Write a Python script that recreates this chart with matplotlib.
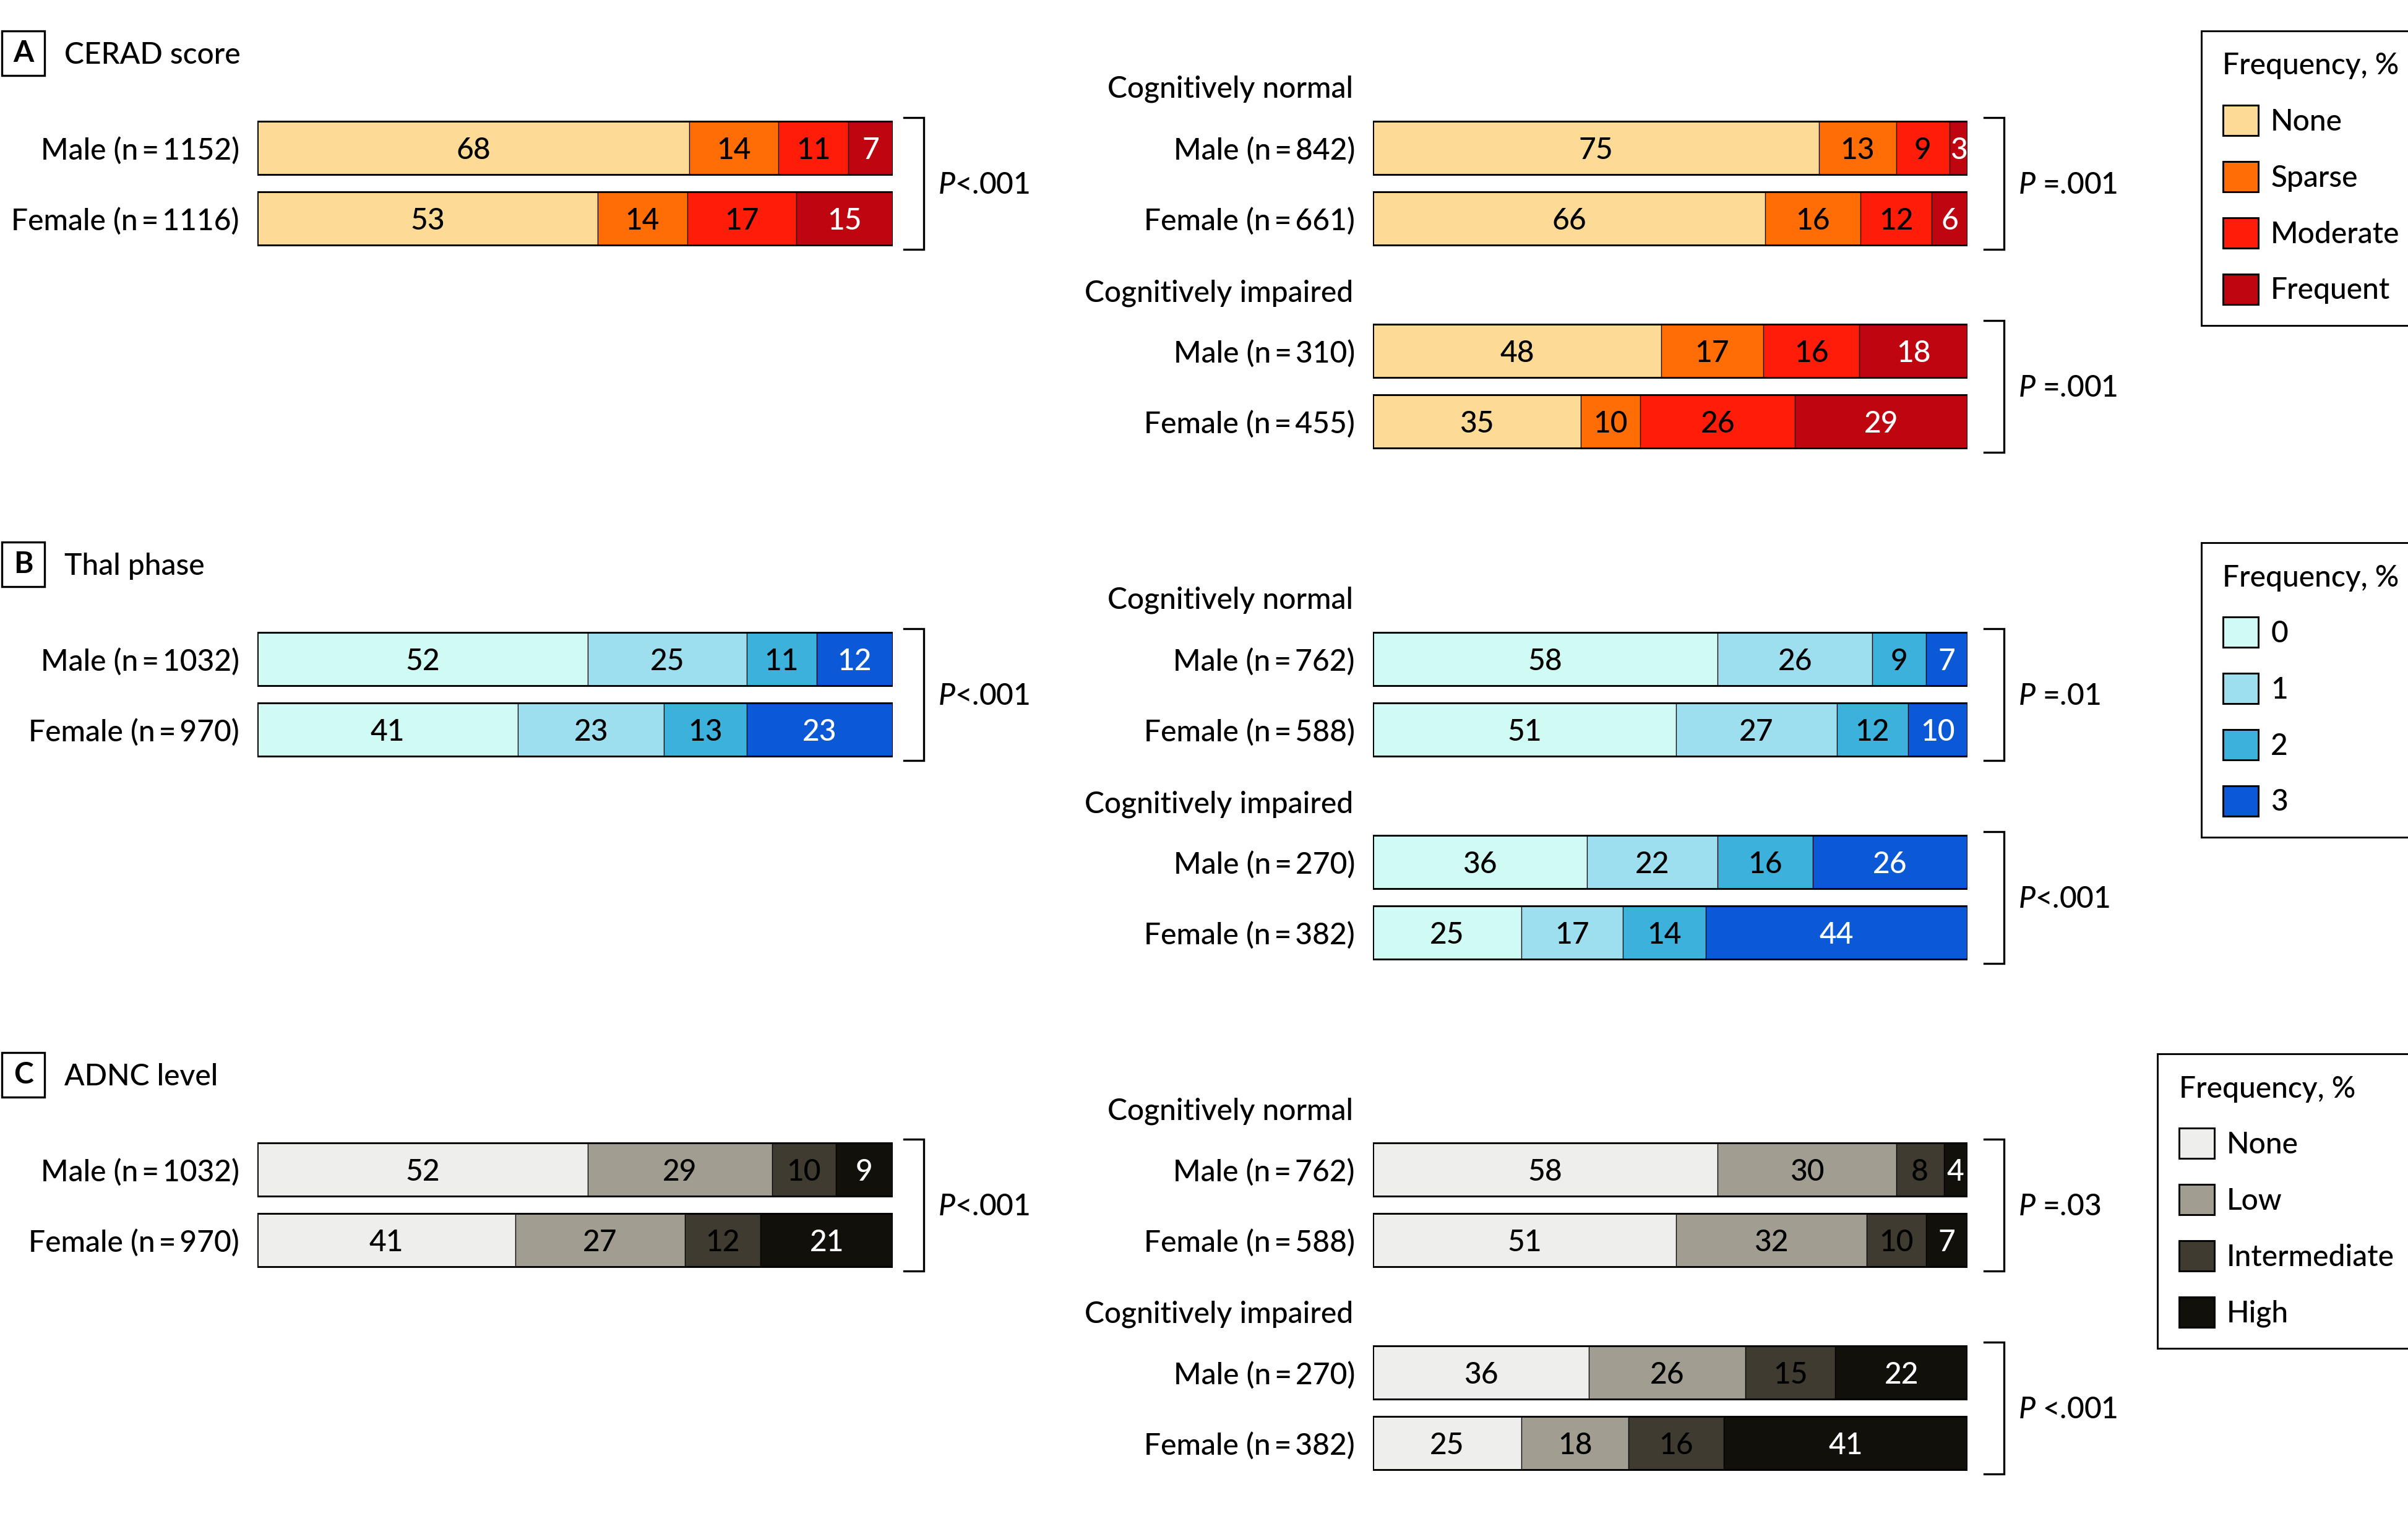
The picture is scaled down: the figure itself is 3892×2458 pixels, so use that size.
import numpy as np
import matplotlib
matplotlib.use("Agg")
import matplotlib.pyplot as plt
from matplotlib.patches import Patch, Rectangle

plt.rcParams['font.family'] = ['Lato', 'DejaVu Sans']
plt.rcParams['font.weight'] = 'medium'
plt.rcParams['mathtext.fontset'] = 'custom'
plt.rcParams['mathtext.it'] = 'Lato:italic:medium'
plt.rcParams['mathtext.rm'] = 'Lato:medium'

# ---------------- data ----------------
cerad_levels = ["None", "Sparse", "Moderate", "Frequent"]
cerad_colors = ["#FDDA96", "#FF6D04", "#FF1D0A", "#BE0510"]
cerad_all_labels = ["Male (n\u2009=\u20091152)", "Female (n\u2009=\u20091116)"]
cerad_all_values = [[68, 14, 11, 7], [53, 14, 17, 15]]
cerad_all_p = "$\\mathit{P}$<.001"
cerad_normal_labels = ["Male (n\u2009=\u2009842)", "Female (n\u2009=\u2009661)"]
cerad_normal_values = [[75, 13, 9, 3], [66, 16, 12, 6]]
cerad_normal_p = "$\\mathit{P}$ =.001"
cerad_impaired_labels = ["Male (n\u2009=\u2009310)", "Female (n\u2009=\u2009455)"]
cerad_impaired_values = [[48, 17, 16, 18], [35, 10, 26, 29]]
cerad_impaired_p = "$\\mathit{P}$ =.001"

thal_levels = ["0", "1", "2", "3"]
thal_colors = ["#D0FBF5", "#9EDFEF", "#3BB1DC", "#0B59D6"]
thal_all_labels = ["Male (n\u2009=\u20091032)", "Female (n\u2009=\u2009970)"]
thal_all_values = [[52, 25, 11, 12], [41, 23, 13, 23]]
thal_all_p = "$\\mathit{P}$<.001"
thal_normal_labels = ["Male (n\u2009=\u2009762)", "Female (n\u2009=\u2009588)"]
thal_normal_values = [[58, 26, 9, 7], [51, 27, 12, 10]]
thal_normal_p = "$\\mathit{P}$ =.01"
thal_impaired_labels = ["Male (n\u2009=\u2009270)", "Female (n\u2009=\u2009382)"]
thal_impaired_values = [[36, 22, 16, 26], [25, 17, 14, 44]]
thal_impaired_p = "$\\mathit{P}$<.001"

adnc_levels = ["None", "Low", "Intermediate", "High"]
adnc_colors = ["#EEEEEC", "#A19E91", "#403B30", "#11100A"]
adnc_all_labels = ["Male (n\u2009=\u20091032)", "Female (n\u2009=\u2009970)"]
adnc_all_values = [[52, 29, 10, 9], [41, 27, 12, 21]]
adnc_all_p = "$\\mathit{P}$<.001"
adnc_normal_labels = ["Male (n\u2009=\u2009762)", "Female (n\u2009=\u2009588)"]
adnc_normal_values = [[58, 30, 8, 4], [51, 32, 10, 7]]
adnc_normal_p = "$\\mathit{P}$ =.03"
adnc_impaired_labels = ["Male (n\u2009=\u2009270)", "Female (n\u2009=\u2009382)"]
adnc_impaired_values = [[36, 26, 15, 22], [25, 18, 16, 41]]
adnc_impaired_p = "$\\mathit{P}$ <.001"

panel_letters = ["A", "B", "C"]
panel_titles = ["CERAD score", "Thal phase", "ADNC level"]
group_titles = ["Cognitively normal", "Cognitively impaired"]
legend_title = "Frequency, %"

panels = [
    dict(levels=cerad_levels, colors=cerad_colors,
         groups=[(cerad_all_labels, cerad_all_values, cerad_all_p),
                 (cerad_normal_labels, cerad_normal_values, cerad_normal_p),
                 (cerad_impaired_labels, cerad_impaired_values, cerad_impaired_p)]),
    dict(levels=thal_levels, colors=thal_colors,
         groups=[(thal_all_labels, thal_all_values, thal_all_p),
                 (thal_normal_labels, thal_normal_values, thal_normal_p),
                 (thal_impaired_labels, thal_impaired_values, thal_impaired_p)]),
    dict(levels=adnc_levels, colors=adnc_colors,
         groups=[(adnc_all_labels, adnc_all_values, adnc_all_p),
                 (adnc_normal_labels, adnc_normal_values, adnc_normal_p),
                 (adnc_impaired_labels, adnc_impaired_values, adnc_impaired_p)]),
]

# ---------------- layout ----------------
W, H = 3892, 2458
DPI = 300
FS = 11.5
fig = plt.figure(figsize=(W / DPI, H / DPI), dpi=DPI)

ov = fig.add_axes([0, 0, 1, 1])
ov.set_xlim(0, W)
ov.set_ylim(H, 0)
ov.axis('off')
ov.patch.set_alpha(0)


def add_ax(x0, y0, x1, y1):
    return fig.add_axes([x0 / W, 1 - y1 / H, (x1 - x0) / W, (y1 - y0) / H])


panel_offsets = [0, 826, 1651]
legend_anchor = [(3558, 50), (3558, 877), (3487, 1703)]

group_geo = [(416, 1443, 239), (2219, 3180, 239), (2219, 3180, 567)]
row_gap = 114
bar_h = 86 / row_gap


def draw_group(ax, labels, values, colors):
    for i, vals in enumerate(values):
        vals = np.asarray(vals, dtype=float)
        widths = vals / vals.sum() * 100
        lefts = np.concatenate([[0], np.cumsum(widths)[:-1]])
        ax.barh(i, widths, left=lefts, height=bar_h, color=colors,
                edgecolor='black', linewidth=0.3)
        ax.barh(i, 100, left=0, height=bar_h, fill=False,
                edgecolor='black', linewidth=0.7)
        for j, (l, w, v) in enumerate(zip(lefts, widths, vals)):
            tc = 'white' if j == len(vals) - 1 else 'black'
            ax.text(l + w / 2, i, f"{int(v)}", ha='center',
                    va='center_baseline', fontsize=FS, color=tc)
    ax.set_xlim(0, 100)
    ax.set_ylim(1.5, -0.5)
    ax.set_yticks(range(len(labels)))
    ax.set_yticklabels(labels, fontsize=FS)
    ax.tick_params(axis='y', length=0, pad=7.0)
    ax.tick_params(axis='x', bottom=False, labelbottom=False)
    for s in ax.spines.values():
        s.set_visible(False)
    ax.patch.set_alpha(0)


for p, (panel, off) in enumerate(zip(panels, panel_offsets)):
    ov.add_patch(Rectangle((3, 50 + off), 69, 72, fill=False,
                           edgecolor='black', linewidth=0.8))
    ov.text(37.5, 86 + off, panel_letters[p], ha='center', va='center',
            fontsize=FS, fontweight='bold')
    ov.text(104, 103 + off, panel_titles[p], ha='left', va='baseline',
            fontsize=FS)
    ov.text(2187, 158 + off, group_titles[0], ha='right', va='baseline', fontsize=FS)
    ov.text(2187, 487 + off, group_titles[1], ha='right', va='baseline', fontsize=FS)

    for g, (labels, values, ptxt) in enumerate(panel['groups']):
        x0, x1, c0 = group_geo[g]
        cy0 = c0 + off
        ax = add_ax(x0, cy0 - row_gap / 2, x1, cy0 + row_gap * 1.5)
        draw_group(ax, labels, values, panel['colors'])
        top = cy0 - 43 - 6
        bot = cy0 + row_gap + 43 + 7
        vx = x1 + (50 if g == 0 else 59)
        tx = x1 + (18 if g == 0 else 27)
        ov.plot([tx, vx, vx, tx], [top, top, bot, bot], color='black',
                linewidth=0.8, solid_joinstyle='miter')
        ov.text(vx + 23, cy0 + row_gap / 2 + 17, ptxt, ha='left',
                va='baseline', fontsize=FS)

    handles = [Patch(facecolor=c, edgecolor='black', linewidth=0.7)
               for c in panel['colors']]
    ax_, ay_ = legend_anchor[p]
    leg = fig.legend(handles, panel['levels'], title=legend_title,
                     loc='upper left', bbox_to_anchor=(ax_ / W, 1 - ay_ / H),
                     bbox_transform=fig.transFigure, frameon=True,
                     fancybox=False, edgecolor='black', framealpha=1,
                     borderaxespad=0, handlelength=1.2, handleheight=1.2,
                     labelspacing=0.87, handletextpad=0.42, borderpad=0.72,
                     alignment='left', fontsize=FS, title_fontsize=FS)
    leg.get_frame().set_linewidth(0.7)

fig.savefig("out.png", dpi=DPI)
